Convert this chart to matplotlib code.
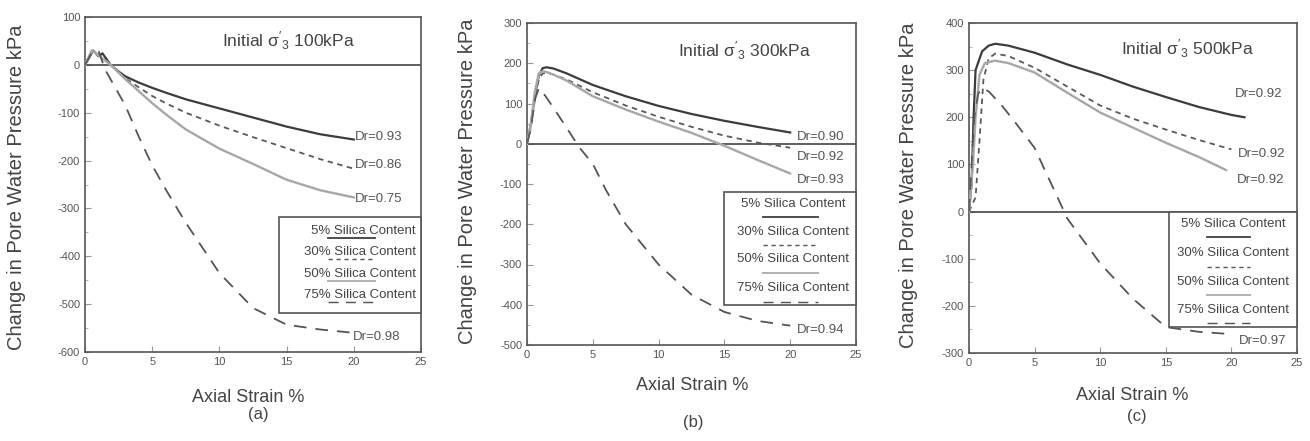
import matplotlib
matplotlib.use("Agg")
import matplotlib.pyplot as plt
from matplotlib.patches import Rectangle

plt.rcParams['font.family'] = ['Liberation Sans', 'DejaVu Sans']
plt.rcParams['mathtext.fontset'] = 'custom'
plt.rcParams['mathtext.rm'] = 'Liberation Sans'
plt.rcParams['mathtext.it'] = 'Liberation Sans'
plt.rcParams['axes.unicode_minus'] = False

series_labels = ["5% Silica Content", "30% Silica Content",
                 "50% Silica Content", "75% Silica Content"]

# (a) initial sigma3' = 100 kPa
a5_x = [0, 0.3, 0.6, 1.0, 1.3, 1.9, 2.5, 3, 4, 5, 6, 7.5, 10, 12.5, 15, 17.5, 20]
a5_y = [0, 15, 30, 18, 24, 0, -14, -24, -37, -48, -58, -72, -91, -110, -129, -145, -156]
a30_x = [0, 0.5, 1.0, 1.9, 3, 4, 5, 6, 7.5, 10, 12.5, 15, 17.5, 20]
a30_y = [0, 28, 22, 0, -28, -47, -65, -80, -100, -127, -151, -174, -197, -217]
a50_x = [0, 0.5, 1.0, 1.9, 3, 4, 5, 6, 7.5, 10, 12.5, 15, 17.5, 20]
a50_y = [0, 30, 20, 0, -30, -55, -80, -103, -135, -175, -207, -240, -262, -277]
a75_x = [0, 0.5, 1.0, 1.5, 2, 3, 4, 5, 6, 7.5, 10, 12.5, 15, 17.5, 20]
a75_y = [0, 25, 30, -10, -35, -85, -150, -210, -260, -330, -435, -508, -543, -553, -560]
a_dr = ["Dr=0.93", "Dr=0.86", "Dr=0.75", "Dr=0.98"]
a_dr_y = [-150, -210, -280, -569]

# (b) initial sigma3' = 300 kPa
b5_x = [0, 0.3, 0.6, 0.9, 1.2, 1.5, 2, 3, 5, 7.5, 10, 12.5, 15, 17.5, 20]
b5_y = [0, 50, 120, 170, 188, 190, 187, 175, 146, 118, 94, 74, 57, 42, 28]
b30_x = [0, 0.3, 0.6, 0.9, 1.2, 1.5, 2, 3, 5, 7.5, 10, 12.5, 15, 17.5, 20]
b30_y = [0, 40, 110, 160, 175, 176, 172, 160, 128, 95, 67, 42, 20, 3, -10]
b50_x = [0, 0.3, 0.6, 0.9, 1.2, 1.5, 2, 3, 5, 7.5, 10, 12.5, 15, 17.5, 20]
b50_y = [0, 50, 130, 175, 180, 178, 172, 157, 118, 85, 55, 27, -5, -40, -74]
b75_x = [0, 0.3, 0.6, 0.9, 1.2, 2, 3, 4, 5, 6, 7.5, 10, 12.5, 15, 17.5, 20]
b75_y = [0, 40, 110, 138, 128, 90, 40, -10, -50, -115, -200, -300, -375, -418, -440, -452]
b_dr = ["Dr=0.90", "Dr=0.92", "Dr=0.93", "Dr=0.94"]
b_dr_y = [17, -32, -90, -463]

# (c) initial sigma3' = 500 kPa
c5_x = [0, 0.2, 0.35, 0.5, 1, 1.5, 2, 3, 5, 7.5, 10, 12.5, 15, 17.5, 20, 21]
c5_y = [0, 60, 200, 300, 340, 352, 356, 352, 337, 312, 290, 265, 243, 222, 205, 200]
c30_x = [0, 0.5, 0.8, 1.1, 1.5, 2, 3, 5, 7.5, 10, 12.5, 15, 17.5, 20]
c30_y = [0, 30, 150, 280, 325, 335, 330, 305, 265, 225, 197, 174, 152, 132]
c50_x = [0, 0.3, 0.5, 0.8, 1.2, 2, 3, 5, 7.5, 10, 12.5, 15, 17.5, 19.6]
c50_y = [0, 100, 200, 290, 315, 320, 315, 295, 252, 210, 178, 146, 116, 88]
c75_x = [0, 0.2, 0.4, 0.7, 1, 1.5, 2.5, 3.5, 5, 6, 7.5, 10, 12.5, 15, 17.5, 20]
c75_y = [0, 100, 200, 250, 262, 255, 225, 190, 135, 75, -15, -110, -185, -245, -255, -260]
c_dr = ["Dr=0.92", "Dr=0.92", "Dr=0.92", "Dr=0.97"]
c_dr_y = [249, 123, 68, -274]

styles = [
    dict(color='#3c3c3c', lw=1.6, ls='-'),
    dict(color='#5a5a5a', lw=1.3, ls=(0, (3, 2.5))),
    dict(color='#b4b4b4', lw=1.8, ls='-'),
    dict(color='#555555', lw=1.3, ls=(0, (7, 5))),
]

W, H = 1310, 441
fig = plt.figure(figsize=(W / 100, H / 100), dpi=100)


def px(x, y):
    return x / W, 1 - y / H


def panel(rect, curves, dr_text, dr_y, dr_x, ylim, title, title_pos, leg):
    ax = fig.add_axes(rect)
    for (xs, ys), st in zip(curves, styles):
        ax.plot(xs, ys, color=st['color'], lw=st['lw'], ls=st['ls'], zorder=3)
    # faint dotted overlay of the 50% curve
    ax.plot(curves[2][0], curves[2][1], color='#777777', lw=0.6, ls=':', zorder=3)
    ax.axhline(0, color='#444444', lw=1.2, zorder=2)
    for t, y, x in zip(dr_text, dr_y, dr_x):
        ax.text(x, y, t, fontsize=9.5, color='#555555', ha='left', va='center', zorder=6)
    ax.set_xlim(0, 25)
    ax.set_ylim(*ylim)
    ax.set_xticks([0, 5, 10, 15, 20, 25])
    ax.set_yticks(range(ylim[0], ylim[1] + 1, 100))
    ax.set_yticks(range(ylim[0], ylim[1] + 1, 50), minor=True)
    ax.tick_params(direction='in', length=4, color='#999999', labelsize=8,
                   labelcolor='#555555', width=0.8)
    ax.tick_params(which='minor', direction='in', length=2, color='#aaaaaa')
    for s in ax.spines.values():
        s.set_color('#555555')
        s.set_linewidth(1.2)
    ax.text(title_pos[0], title_pos[1], r"Initial $\sigma'_{3}$ " + title,
            transform=ax.transAxes, fontsize=12.5, color='#444444',
            ha='center', va='center')
    # legend box with sample lines below the text
    bx0, by0, bx1, by1, tx, tha, rows, lines, lx0, lx1 = leg
    ax.add_patch(Rectangle((bx0, by0), bx1 - bx0, by1 - by0, transform=ax.transAxes,
                           facecolor='white', edgecolor='#555555', lw=1.2, zorder=5,
                           clip_on=False))
    for lab, ry, ly, st in zip(series_labels, rows, lines, styles):
        ax.text(tx, ry, lab, transform=ax.transAxes, fontsize=9.5, color='#444444',
                ha=tha, va='center', zorder=6)
        ax.plot([lx0, lx1], [ly, ly], transform=ax.transAxes, color=st['color'],
                lw=st['lw'] * 0.8, ls=st['ls'], zorder=6, clip_on=False)
    return ax


panel([85 / W, (H - 352) / H, 336 / W, 335 / H],
      [(a5_x, a5_y), (a30_x, a30_y), (a50_x, a50_y), (a75_x, a75_y)],
      a_dr, a_dr_y, [20.1, 20.1, 20.1, 19.9], (-600, 100), "100kPa", (0.604, 0.93),
      (0.578, 0.117, 1.0, 0.402, 0.985, 'right',
       [0.362, 0.298, 0.233, 0.170], [0.341, 0.277, 0.212, 0.149], 0.723, 0.863))

panel([527 / W, (H - 345) / H, 329 / W, 322 / H],
      [(b5_x, b5_y), (b30_x, b30_y), (b50_x, b50_y), (b75_x, b75_y)],
      b_dr, b_dr_y, [20.5, 20.5, 20.5, 20.5], (-500, 300), "300kPa", (0.66, 0.915),
      (0.599, 0.124, 1.0, 0.474, 0.81, 'center',
       [0.438, 0.352, 0.266, 0.176], [0.398, 0.311, 0.223, 0.134], 0.717, 0.884))

panel([969 / W, (H - 353) / H, 328 / W, 330 / H],
      [(c5_x, c5_y), (c30_x, c30_y), (c50_x, c50_y), (c75_x, c75_y)],
      c_dr, c_dr_y, [20.3, 20.5, 20.4, 20.6], (-300, 400), "500kPa", (0.666, 0.922),
      (0.61, 0.078, 1.0, 0.427, 0.805, 'center',
       [0.391, 0.302, 0.216, 0.130], [0.352, 0.262, 0.176, 0.090], 0.725, 0.857))

ylab = "Change in Pore Water Pressure kPa"
for (x, y) in [(17, 187), (468, 181), (908, 185)]:
    fig.text(*px(x, y), ylab, rotation=90, fontsize=14.5, color='#444444',
             ha='center', va='center')
for (x, y), (tx, ty), tag in [((248, 397), (258, 415), "(a)"),
                              ((692, 385), (693, 422), "(b)"),
                              ((1132, 395), (1137, 417), "(c)")]:
    fig.text(*px(x, y), "Axial Strain %", fontsize=13, color='#444444',
             ha='center', va='center')
    fig.text(*px(tx, ty), tag, fontsize=12, color='#444444', ha='center', va='center')

fig.savefig("out.png", dpi=100, facecolor='white')
